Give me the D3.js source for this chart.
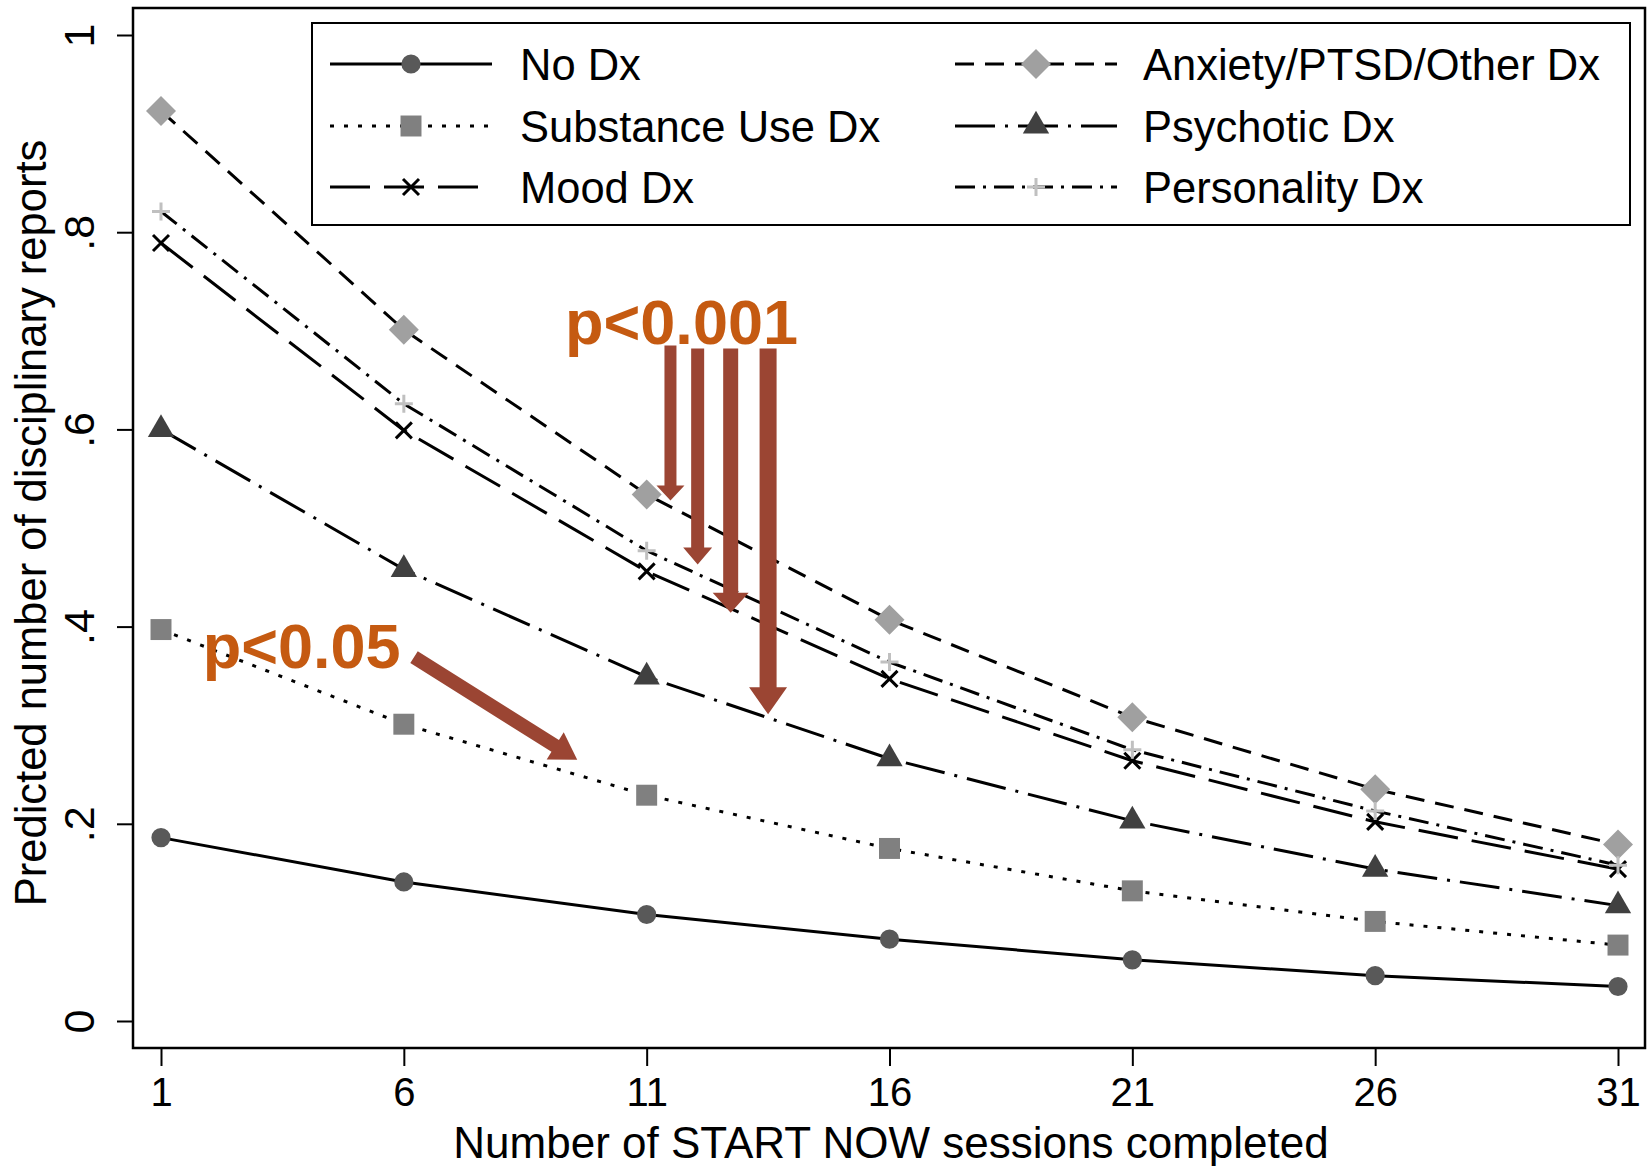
<!DOCTYPE html>
<html>
<head>
<meta charset="utf-8">
<script src="https://cdn.jsdelivr.net/npm/d3@7"></script>
<style>
  html, body { margin: 0; padding: 0; background: #fff; }
  svg { display: block; font-family: "Liberation Sans", Arial, sans-serif; }
</style>
</head>
<body>
<svg id="chart" width="1651" height="1166"></svg>
<script>
// predicted disciplinary reports by diagnosis group across START NOW sessions
const sessions = [1, 6, 11, 16, 21, 26, 31];
const noDx          = [0.186, 0.141, 0.108, 0.083, 0.062, 0.046, 0.035];
const substanceDx   = [0.397, 0.301, 0.229, 0.175, 0.132, 0.101, 0.077];
const moodDx        = [0.789, 0.599, 0.456, 0.347, 0.264, 0.202, 0.154];
const anxietyDx     = [0.923, 0.701, 0.534, 0.407, 0.308, 0.235, 0.179];
const psychoticDx   = [0.600, 0.458, 0.349, 0.266, 0.203, 0.154, 0.117];
const personalityDx = [0.821, 0.626, 0.477, 0.364, 0.275, 0.213, 0.158];

const yTicks = [0, 0.2, 0.4, 0.6, 0.8, 1];
const yTickLabels = ["0", ".2", ".4", ".6", ".8", "1"];
const xTicks = [1, 6, 11, 16, 21, 26, 31];

const seriesNames = ["No Dx", "Substance Use Dx", "Mood Dx", "Anxiety/PTSD/Other Dx", "Psychotic Dx", "Personality Dx"];

// annotation anchors, in data units
const p001Arrows = [
  { x: 11.49, yFrom: 0.685, yTo: 0.528 },
  { x: 12.05, yFrom: 0.682, yTo: 0.463 },
  { x: 12.73, yFrom: 0.682, yTo: 0.414 },
  { x: 13.50, yFrom: 0.682, yTo: 0.311 }
];
const p05Arrow = { xFrom: 6.21, yFrom: 0.369, xTo: 9.57, yTo: 0.265 };
const pLabels = [
  { text: "p<0.001", x: 9.32, y: 0.687 },
  { text: "p<0.05", x: 1.86, y: 0.358 }
];

(function () {
    const svg = d3.select("#chart");
    const W = 1651, H = 1166;
    const margin = {top: 8, right: 6, bottom: 118, left: 133};

    const x = d3.scaleLinear().domain([1, 31]).range([161, 1618]);
    const y = d3.scaleLinear().domain([0, 1]).range([1021, 35]);

    const seriesData = [noDx, substanceDx, moodDx, anxietyDx, psychoticDx, personalityDx];
    const styles = [
        { dash: null,          marker: "circle",   fill: "#595959" },
        { dash: "4,10",        marker: "square",   fill: "#808080" },
        { dash: "40,14",       marker: "x",        fill: "#000" },
        { dash: "19,11",       marker: "diamond",  fill: "#a0a0a0" },
        { dash: "40,10,3,10",  marker: "triangle", fill: "#404040" },
        { dash: "20,8,3,8",    marker: "plus",     fill: "#c0c0c0" }
    ];

    const series = seriesNames.map((name, i) => ({
        name: name,
        style: styles[i],
        values: sessions.map((s, j) => ({ s: s, v: seriesData[i][j] }))
    }));

    // plot region frame
    svg.append("rect")
        .attr("x", margin.left).attr("y", margin.top)
        .attr("width", W - margin.left - margin.right)
        .attr("height", H - margin.top - margin.bottom)
        .attr("fill", "#fff").attr("stroke", "#000").attr("stroke-width", 2.5);

    const yAxis = svg.append("g")
        .attr("transform", `translate(${margin.left},0)`)
        .call(d3.axisLeft(y).tickValues(yTicks).tickSize(16).tickPadding(8)
            .tickFormat((d, i) => yTickLabels[i]));
    yAxis.select(".domain").remove();
    yAxis.selectAll(".tick line").attr("stroke", "#000").attr("stroke-width", 2);
    yAxis.selectAll(".tick text")
        .attr("font-size", 43).attr("fill", "#000")
        .attr("transform", "rotate(-90)")
        .attr("x", 0).attr("y", -54)
        .attr("dy", "0.36em")
        .style("text-anchor", "middle");

    const xAxis = svg.append("g")
        .attr("transform", `translate(0,${H - margin.bottom})`)
        .call(d3.axisBottom(x).tickValues(xTicks).tickSize(18).tickPadding(12));
    xAxis.select(".domain").remove();
    xAxis.selectAll(".tick line").attr("stroke", "#000").attr("stroke-width", 2);
    xAxis.selectAll(".tick text").attr("font-size", 40).attr("fill", "#000");

    svg.append("text")
        .attr("x", (margin.left + W - margin.right) / 2 + 2)
        .attr("y", 1158)
        .attr("text-anchor", "middle")
        .attr("font-size", 44)
        .text("Number of START NOW sessions completed");

    svg.append("text")
        .attr("transform", `translate(46,${(margin.top + H - margin.bottom) / 2 - 5}) rotate(-90)`)
        .attr("text-anchor", "middle")
        .attr("font-size", 43.5)
        .text("Predicted number of disciplinary reports");

    function markerPath(type) {
        const p = d3.path();
        if (type === "x") {
            const r = 8;
            p.moveTo(-r, -r); p.lineTo(r, r);
            p.moveTo(-r, r); p.lineTo(r, -r);
            return p.toString();
        }
        if (type === "plus") {
            const r = 9;
            p.moveTo(-r, 0); p.lineTo(r, 0);
            p.moveTo(0, -r); p.lineTo(0, r);
            return p.toString();
        }
        if (type === "diamond") {
            const r = 15;
            p.moveTo(0, -r); p.lineTo(r, 0); p.lineTo(0, r); p.lineTo(-r, 0); p.closePath();
            return p.toString();
        }
        if (type === "circle") return d3.symbol(d3.symbolCircle, 290)();
        if (type === "square") return d3.symbol(d3.symbolSquare, 440)();
        if (type === "triangle") return d3.symbol(d3.symbolTriangle, 300)();
    }

    function drawMarker(g, style) {
        const m = g.append("path").attr("d", markerPath(style.marker));
        if (style.marker === "x" || style.marker === "plus") {
            m.attr("fill", "none").attr("stroke", style.fill).attr("stroke-width", 3);
        } else {
            m.attr("fill", style.fill).attr("stroke", "none");
        }
        return m;
    }

    const line = d3.line().x(d => x(d.s)).y(d => y(d.v));

    const plot = svg.append("g");
    series.forEach(sr => {
        plot.append("path")
            .datum(sr.values)
            .attr("d", line)
            .attr("fill", "none")
            .attr("stroke", "#000")
            .attr("stroke-width", 3)
            .attr("stroke-dasharray", sr.style.dash);
    });
    series.forEach(sr => {
        sr.values.forEach(d => {
            const g = plot.append("g").attr("transform", `translate(${x(d.s)},${y(d.v)})`);
            drawMarker(g, sr.style);
        });
    });

    // legend
    const legend = svg.append("g");
    legend.append("rect")
        .attr("x", 312).attr("y", 23).attr("width", 1318).attr("height", 202)
        .attr("fill", "#fff").attr("stroke", "#000").attr("stroke-width", 2);

    const colX = [330, 955];
    const rowY = [64, 126, 187];
    series.forEach((sr, i) => {
        const cx = colX[Math.floor(i / 3)];
        const cy = rowY[i % 3];
        const g = legend.append("g").attr("transform", `translate(${cx},${cy})`);
        g.append("line")
            .attr("x1", 0).attr("x2", 162).attr("y1", 0).attr("y2", 0)
            .attr("stroke", "#000").attr("stroke-width", 3)
            .attr("stroke-dasharray", sr.style.dash);
        const mg = g.append("g").attr("transform", "translate(81,0)");
        drawMarker(mg, sr.style);
        g.append("text")
            .attr("x", i < 3 ? 190 : 188)
            .attr("y", 0)
            .attr("dy", "0.36em")
            .attr("font-size", 43.5)
            .text(sr.name);
    });

    // significance annotations
    const arrowColor = "#9b4533";
    function arrowPolygon(x0, y0, x1, y1, shaft, head, headLen) {
        const dx = x1 - x0, dy = y1 - y0;
        const len = Math.sqrt(dx * dx + dy * dy);
        const ux = dx / len, uy = dy / len;
        const nx = -uy, ny = ux;
        const bx = x1 - ux * headLen, by = y1 - uy * headLen;
        const pts = [
            [x0 + nx * shaft / 2, y0 + ny * shaft / 2],
            [bx + nx * shaft / 2, by + ny * shaft / 2],
            [bx + nx * head / 2, by + ny * head / 2],
            [x1, y1],
            [bx - nx * head / 2, by - ny * head / 2],
            [bx - nx * shaft / 2, by - ny * shaft / 2],
            [x0 - nx * shaft / 2, y0 - ny * shaft / 2]
        ];
        return pts.map(p => p.join(",")).join(" ");
    }

    const arrowSizes = [
        { shaft: 12, head: 28, len: 15 },
        { shaft: 13, head: 29, len: 17 },
        { shaft: 15, head: 36, len: 20 },
        { shaft: 17, head: 38, len: 27 }
    ];
    p001Arrows.forEach((a, i) => {
        const sz = arrowSizes[i];
        svg.append("polygon")
            .attr("points", arrowPolygon(x(a.x), y(a.yFrom), x(a.x), y(a.yTo), sz.shaft, sz.head, sz.len))
            .attr("fill", arrowColor);
    });
    svg.append("polygon")
        .attr("points", arrowPolygon(x(p05Arrow.xFrom), y(p05Arrow.yFrom), x(p05Arrow.xTo), y(p05Arrow.yTo), 14, 32, 26))
        .attr("fill", arrowColor);

    pLabels.forEach(l => {
        svg.append("text")
            .attr("x", x(l.x)).attr("y", y(l.y))
            .attr("font-size", 63).attr("font-weight", "bold")
            .attr("fill", "#c55a11")
            .text(l.text);
    });
})();
</script>
</body>
</html>
